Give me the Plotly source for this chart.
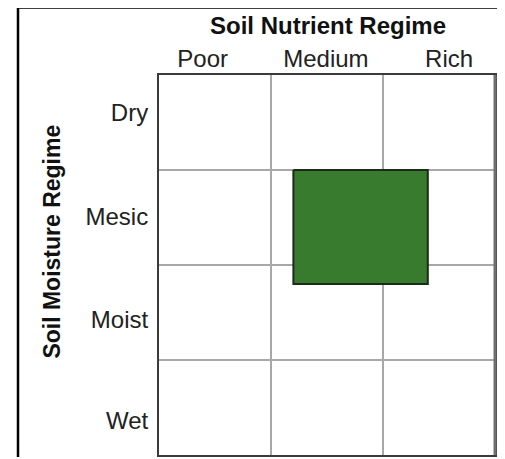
import plotly.graph_objects as go

# Data
nutrient_regimes = ["Poor", "Medium", "Rich"]
moisture_regimes = ["Dry", "Mesic", "Moist", "Wet"]
nutrient_label_pos = [0.39, 1.49, 2.59]
moisture_label_pos = [0.40, 1.49, 2.57, 3.64]
suitable_nutrient = [1.2, 2.4]
suitable_moisture = [1.0, 2.2]

OFF = 8  # browser body margin
W, H = 505 - OFF, 459 - OFF
L, R, T, B = 159 - OFF, 10, 75 - OFF, 2
pw, ph = W - L - R, H - T - B

def px_x(px):
    return (px - OFF - L) / pw

def px_y(py):
    return 1 - (py - OFF - T) / ph

fig = go.Figure()

fig.add_trace(go.Scatter(
    x=[suitable_nutrient[0], suitable_nutrient[1], suitable_nutrient[1], suitable_nutrient[0], suitable_nutrient[0]],
    y=[suitable_moisture[0], suitable_moisture[0], suitable_moisture[1], suitable_moisture[1], suitable_moisture[0]],
    mode="lines", fill="toself", fillcolor="rgb(56,122,46)",
    line=dict(color="#1c2a1a", width=2), hoverinfo="skip", showlegend=False,
))

font = "Liberation Sans, Arial, sans-serif"

fig.update_layout(
    width=W, height=H,
    margin=dict(l=L, r=R, t=T, b=B, pad=0),
    paper_bgcolor="white", plot_bgcolor="white",
    showlegend=False,
    title=dict(text="<b>Soil Nutrient Regime</b>", x=(328 - OFF) / W, xanchor="center",
               y=1 - (25.5 - OFF) / H, yanchor="middle",
               font=dict(family=font, size=24, color="#111")),
    xaxis=dict(range=[0, 3], side="top", tickvals=nutrient_label_pos, ticktext=nutrient_regimes,
               showgrid=False, zeroline=False, ticks="", ticklabelstandoff=-4,
               tickfont=dict(family=font, size=24, color="#222"),
               minor=dict(tickvals=[1, 2], showgrid=True, gridcolor="#a8a8a8", gridwidth=1.5, ticks=""),
               showline=True, mirror=True, linecolor="#3a3a3a", linewidth=2, fixedrange=True),
    yaxis=dict(range=[4, 0], tickvals=moisture_label_pos, ticktext=moisture_regimes,
               showgrid=False, zeroline=False, ticks="", ticklabelstandoff=4,
               tickfont=dict(family=font, size=24, color="#222"),
               minor=dict(tickvals=[1, 2, 3], showgrid=True, gridcolor="#a8a8a8", gridwidth=1.5, ticks=""),
               showline=True, mirror=True, linecolor="#3a3a3a", linewidth=2, fixedrange=True),
)

fig.add_annotation(text="<b>Soil Moisture Regime</b>", xref="paper", yref="paper",
                   x=px_x(52), y=px_y(242.5), textangle=-90, showarrow=False,
                   xanchor="center", yanchor="middle",
                   font=dict(family=font, size=23, color="#111"))

fig.add_shape(type="line", xref="paper", yref="paper", x0=1, x1=1, y0=0, y1=1,
              line=dict(color="#707070", width=3))

# outer image frame
fig.add_shape(type="line", xref="paper", yref="paper", x0=px_x(18), x1=px_x(18),
              y0=px_y(7), y1=px_y(459), line=dict(color="black", width=2.5))
fig.add_shape(type="line", xref="paper", yref="paper", x0=px_x(17), x1=px_x(505),
              y0=px_y(7.5), y1=px_y(7.5), line=dict(color="black", width=2))
fig.add_shape(type="line", xref="paper", yref="paper", x0=px_x(502), x1=px_x(502),
              y0=px_y(8), y1=px_y(459), line=dict(color="#777", width=1.5))

fig.write_html("out.html", config={"displayModeBar": False})
